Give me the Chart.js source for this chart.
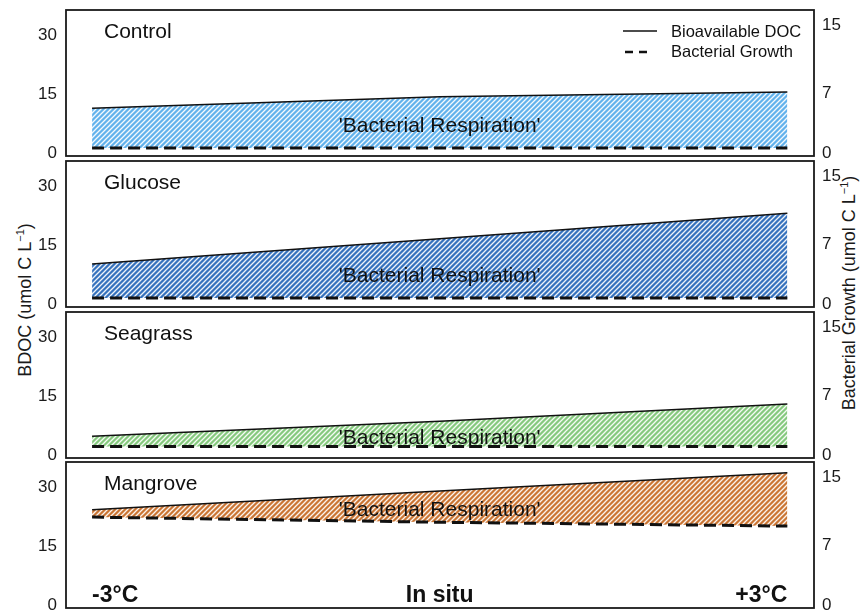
<!DOCTYPE html>
<html>
<head>
<meta charset="utf-8">
<script src="https://cdn.jsdelivr.net/npm/chart.js@4.4.1/dist/chart.umd.min.js"></script>
<style>
  html, body { margin: 0; padding: 0; background: #fff; }
  #wrap { position: relative; width: 866px; height: 614px; overflow: hidden;
          font-family: 'Liberation Sans', Arial, Helvetica, sans-serif; }
  #wrap canvas { position: absolute; left: 0; }
  .ytitle { position: absolute; white-space: nowrap; font-size: 18px; color: #1a1a1a;
            transform: translate(-50%, -50%) rotate(-90deg); line-height: 1; }
  .ytitle sup { font-size: 11px; }
</style>
</head>
<body>
<div id="wrap">
  <div class="ytitle" style="left:24px; top:300px;">BDOC (umol C L<sup>−1</sup>)</div>
  <div class="ytitle" style="left:848px; top:293px;">Bacterial Growth (umol C L<sup>−1</sup>)</div>
</div>
<script>
// Temperature treatments along the x axis
const xValues = [-3, 0, 3];
const bottomLabels = ['-3°C', 'In situ', '+3°C'];

// Panels (substrate additions)
const panelNames = ['Control', 'Glucose', 'Seagrass', 'Mangrove'];

// Bioavailable DOC (left axis, umol C L-1)
const bdocControl  = [11.4, 14.3, 15.5];
const bdocGlucose  = [10.2, 16.6, 23.1];
const bdocSeagrass = [4.8, 8.6, 13.0];
const bdocMangrove = [24.2, 29.0, 33.6];

// Bacterial growth (right axis, umol C L-1)
const growthControl  = [0.6, 0.6, 0.6];
const growthGlucose  = [0.7, 0.7, 0.7];
const growthSeagrass = [1.0, 1.0, 1.0];
const growthMangrove = [10.3, 9.7, 9.25];

// Axis tick values
const bdocTicks = [0, 15, 30];
const growthTicks = [0, 7, 15];

const legendLabels = ['Bioavailable DOC', 'Bacterial Growth'];
const fillLabel = "'Bacterial Respiration'";

const FONT = "'Liberation Sans', Arial, Helvetica, sans-serif";

// Layout of the four stacked panels (plot-area top edges, heights, text offsets)
const panelTops = [10, 161, 312, 462];
const panelHeight = 146;
const respLabelY = [116, 115, 126, 48];
const fillColors = ['#62b2ec', '#3672bd', '#86c97e', '#cb7634'];
const PAD = 20;

function hatch(color) {
  const s = 5;
  const c = document.createElement('canvas');
  c.width = s; c.height = s;
  const g = c.getContext('2d');
  g.fillStyle = color;
  g.fillRect(0, 0, s, s);
  g.strokeStyle = 'rgba(255,255,255,0.92)';
  g.lineWidth = 1.3;
  g.beginPath();
  g.moveTo(0, s); g.lineTo(s, 0);
  g.moveTo(-1, 1); g.lineTo(1, -1);
  g.moveTo(s - 1, s + 1); g.lineTo(s + 1, s - 1);
  g.stroke();
  return g.createPattern(c, 'repeat');
}

const decor = {
  id: 'decor',
  afterDatasetsDraw(chart, args, o) {
    const { ctx, chartArea: a, scales } = chart;
    ctx.save();
    // panel frame
    ctx.strokeStyle = '#1a1a1a';
    ctx.lineWidth = 1.8;
    ctx.strokeRect(a.left, a.top, a.right - a.left, a.bottom - a.top);

    ctx.fillStyle = '#111';
    ctx.textBaseline = 'middle';
    ctx.font = '21px ' + FONT;
    ctx.textAlign = 'left';
    ctx.fillText(o.name, a.left + 38, a.top + 22);
    ctx.textAlign = 'center';
    ctx.fillText(fillLabel, scales.x.getPixelForValue(0), a.top + o.labelY);

    if (o.legend) {
      const lx = a.left + 557;
      ctx.strokeStyle = '#111';
      ctx.lineWidth = 1.5;
      ctx.beginPath();
      ctx.moveTo(lx, a.top + 21); ctx.lineTo(lx + 34, a.top + 21);
      ctx.stroke();
      ctx.lineWidth = 2.4;
      ctx.setLineDash([8, 6]);
      ctx.beginPath();
      ctx.moveTo(lx + 2, a.top + 42); ctx.lineTo(lx + 25, a.top + 42);
      ctx.stroke();
      ctx.setLineDash([]);
      ctx.font = '16.5px ' + FONT;
      ctx.textAlign = 'left';
      ctx.fillText(legendLabels[0], lx + 48, a.top + 22);
      ctx.fillText(legendLabels[1], lx + 48, a.top + 42);
    }

    if (o.bottom) {
      ctx.font = 'bold 23px ' + FONT;
      const y = a.top + 134;
      const aligns = ['left', 'center', 'right'];
      xValues.forEach((v, i) => {
        ctx.textAlign = aligns[i];
        ctx.fillText(bottomLabels[i], scales.x.getPixelForValue(v), y);
      });
    }
    ctx.restore();
  }
};

const bdocSeries = [bdocControl, bdocGlucose, bdocSeagrass, bdocMangrove];
const growthSeries = [growthControl, growthGlucose, growthSeagrass, growthMangrove];

const wrap = document.getElementById('wrap');

panelNames.forEach((name, p) => {
  const cv = document.createElement('canvas');
  cv.width = 866;
  cv.height = panelHeight + 2 * PAD;
  cv.style.top = (panelTops[p] - PAD) + 'px';
  wrap.appendChild(cv);

  new Chart(cv.getContext('2d'), {
    type: 'line',
    data: {
      datasets: [
        {
          label: legendLabels[0],
          data: xValues.map((x, i) => ({ x, y: bdocSeries[p][i] })),
          yAxisID: 'yL',
          order: 1,
          borderColor: '#111',
          borderWidth: 1.5,
          pointRadius: 0,
          tension: 0,
          fill: '+1',
          backgroundColor: hatch(fillColors[p])
        },
        {
          label: legendLabels[1],
          data: xValues.map((x, i) => ({ x, y: growthSeries[p][i] })),
          yAxisID: 'yR',
          order: 0,
          borderColor: '#111',
          borderWidth: 3,
          borderDash: [12, 6],
          pointRadius: 0,
          tension: 0,
          fill: false
        }
      ]
    },
    options: {
      responsive: false,
      animation: false,
      devicePixelRatio: 1,
      layout: { padding: { top: PAD, bottom: PAD, left: 0, right: 0 } },
      plugins: {
        legend: { display: false },
        tooltip: { enabled: false },
        decor: { name, labelY: respLabelY[p], legend: p === 0, bottom: p === 3 }
      },
      scales: {
        x: { type: 'linear', min: -3.225, max: 3.23, display: false },
        yL: {
          position: 'left', min: -0.76, max: 36.36,
          grid: { display: false, drawTicks: false },
          border: { display: false },
          afterBuildTicks: s => { s.ticks = bdocTicks.map(v => ({ value: v })); },
          afterFit: s => { s.width = 66; },
          ticks: { padding: 9, color: '#1a1a1a', font: { size: 17, family: FONT } }
        },
        yR: {
          position: 'right', min: -0.35, max: 16.76,
          grid: { display: false, drawTicks: false },
          border: { display: false },
          afterBuildTicks: s => { s.ticks = growthTicks.map(v => ({ value: v })); },
          afterFit: s => { s.width = 52; },
          ticks: { padding: 8, color: '#1a1a1a', font: { size: 17, family: FONT } }
        }
      }
    },
    plugins: [decor]
  });
});
</script>
</body>
</html>
